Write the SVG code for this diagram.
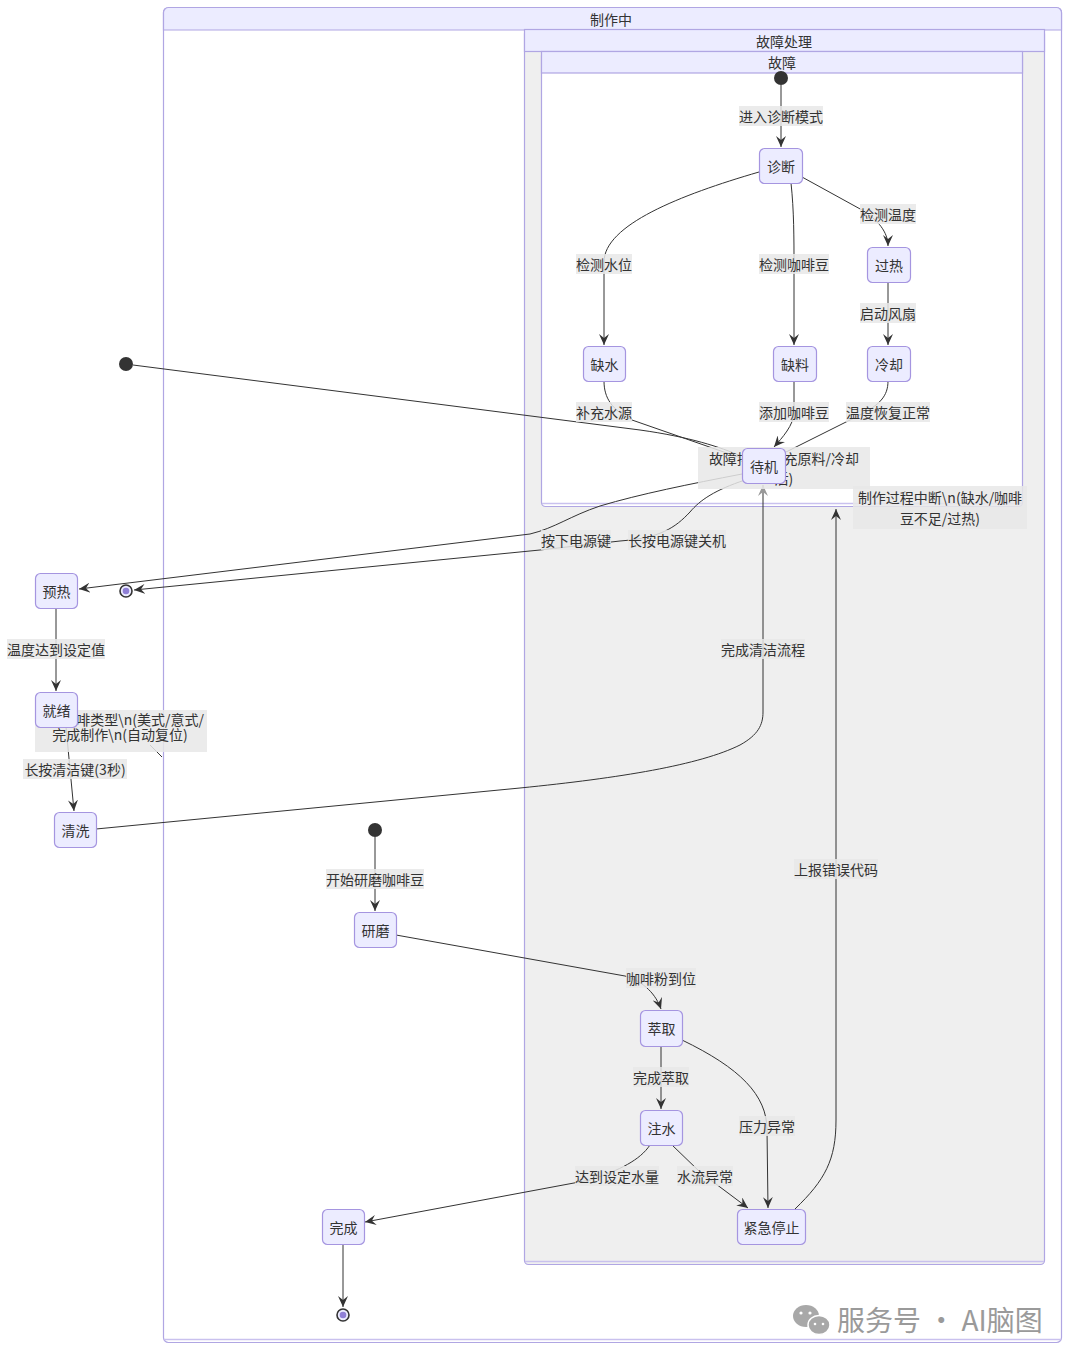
<svg xmlns="http://www.w3.org/2000/svg" width="1080" height="1364" viewBox="0 0 1080 1364">
  <style>
    text { font-family: "Noto Sans CJK SC", "Noto Sans", sans-serif; font-size: 14px; fill: #333; }
    .title { text-anchor: middle; dominant-baseline: central; }
    .box { fill: #ECECFF; stroke: #a595e0; stroke-width: 1.2; }
    .cbody { stroke: #b0a6e3; stroke-width: 1.2; }
    .chead { fill: #ECECFF; stroke: #b0a6e3; stroke-width: 1.2; }
    .edge { fill: none; stroke: #333; stroke-width: 1; }
    .lbl rect { fill: #e8e8e8; opacity: 0.85; }
    .lbl text { text-anchor: middle; dominant-baseline: central; }
    .start { fill: #333; }
    .wm { font-size: 28px; fill: #9a9a9a; }
  </style>
  <defs>
    <marker id="arr" viewBox="0 0 12 10" refX="11" refY="5" markerWidth="12" markerHeight="10" markerUnits="userSpaceOnUse" orient="auto">
      <path d="M0,0 L11,5 L0,10 L4,5 Z" fill="#333"/>
    </marker>
    <marker id="arrLight" viewBox="0 0 12 10" refX="11" refY="5" markerWidth="12" markerHeight="10" markerUnits="userSpaceOnUse" orient="auto">
      <path d="M0,0 L11,5 L0,10 L4,5 Z" fill="#999"/>
    </marker>
  </defs>

  <rect width="1080" height="1364" fill="#ffffff"/>

  <!-- composite: 制作中 -->
  <g id="making">
    <rect class="cbody" x="163.5" y="7.5" width="898" height="1335" rx="5" fill="#ffffff"/>
    <path class="chead" d="M163.5,30 V12.5 a5,5 0 0 1 5,-5 H1056.5 a5,5 0 0 1 5,5 V30 Z"/>
    <line x1="164" y1="1339.5" x2="1061" y2="1339.5" stroke="#c9c1ee" stroke-width="1.5"/>
    <text class="title" x="611" y="19">制作中</text>
  </g>

  <!-- composite: 故障处理 -->
  <g id="fault-handling">
    <rect class="cbody" x="524.5" y="29.5" width="520" height="1235" rx="4" fill="#efefef"/>
    <rect class="chead" x="524.5" y="29.5" width="520" height="22"/>
    <line x1="525" y1="1261.5" x2="1044" y2="1261.5" stroke="#c9c1ee" stroke-width="1.5"/>
    <text class="title" x="784" y="40.5">故障处理</text>
  </g>

  <!-- composite: 故障 -->
  <g id="fault">
    <rect class="cbody" x="541.5" y="51.5" width="481" height="455" rx="4" fill="#ffffff"/>
    <rect class="chead" x="541.5" y="51.5" width="481" height="21.5"/>
    <line x1="542" y1="503.5" x2="1022" y2="503.5" stroke="#c9c1ee" stroke-width="1.5"/>
    <text class="title" x="782" y="62">故障</text>
  </g>

  <!-- connectors -->
  <g id="connectors">
    <path class="edge" d="M781,85 L781,147" marker-end="url(#arr)"/>
    <path class="edge" d="M759,172 C680,195 604,225 604,262 L604,345" marker-end="url(#arr)"/>
    <path class="edge" d="M791,183 C794,210 794,240 794,264 L794,345" marker-end="url(#arr)"/>
    <path class="edge" d="M802,177 L862,210 C878,220 888,232 888,246" marker-end="url(#arr)"/>
    <path class="edge" d="M888,282 L888,345" marker-end="url(#arr)"/>
    <path class="edge" d="M604,381 C604,398 612,410 632,420 L741,458"/>
    <path class="edge" d="M794,381 L794,412 C794,425 782,438 774,447" marker-end="url(#arr)"/>
    <path class="edge" d="M888,381 C888,396 880,405 858,416 L786,452"/>
    <path class="edge" d="M133,365 L640,430 C690,437 720,447 741,456"/>
    <path class="edge" d="M742,474 C690,484 640,494 600,506 C570,516 555,528 530,534 L79,589" marker-end="url(#arr)"/>
    <path class="edge" d="M745,480 C715,490 700,500 690,512 C675,528 660,538 620,541 L540,550 L134,590" marker-end="url(#arr)"/>
    <path class="edge" d="M56,608 L56,691" marker-end="url(#arr)"/>
    <path class="edge" d="M66,727 L74,811" marker-end="url(#arr)"/>
    <path class="edge" d="M150,745 L162,757" stroke="#777"/>
    <path class="edge" d="M96,829 L520,788 C620,778 700,765 740,745 C758,735 763,725 763,712 L763,485" marker-end="url(#arrLight)"/>
    <path class="edge" d="M375,837 L375,911" marker-end="url(#arr)"/>
    <path class="edge" d="M396,935 L625,976 C645,982 656,995 661,1009" marker-end="url(#arr)"/>
    <path class="edge" d="M661,1046 L661,1109" marker-end="url(#arr)"/>
    <path class="edge" d="M682,1040 C740,1068 767,1095 767,1130 L768,1208" marker-end="url(#arr)"/>
    <path class="edge" d="M650,1145 C640,1160 620,1170 590,1180 L365,1222" marker-end="url(#arr)"/>
    <path class="edge" d="M672,1145 L700,1172 L748,1208" marker-end="url(#arr)"/>
    <path class="edge" d="M795,1209 C825,1180 836,1160 836,1120 L836,509" marker-end="url(#arr)"/>
    <path class="edge" d="M343,1244 L343,1307" marker-end="url(#arr)"/>
  </g>

  <!-- connector labels -->
  <g id="labels">
    <g class="lbl"><rect x="739" y="106" width="84" height="20"/><text x="781" y="116">进入诊断模式</text></g>
    <g class="lbl"><rect x="576" y="254" width="56" height="20"/><text x="604" y="264">检测水位</text></g>
    <g class="lbl"><rect x="759" y="254" width="70" height="20"/><text x="794" y="264">检测咖啡豆</text></g>
    <g class="lbl"><rect x="860" y="204" width="56" height="20"/><text x="888" y="214">检测温度</text></g>
    <g class="lbl"><rect x="860" y="303" width="56" height="20"/><text x="888" y="313">启动风扇</text></g>
    <g class="lbl"><rect x="576" y="402" width="56" height="20"/><text x="604" y="412">补充水源</text></g>
    <g class="lbl"><rect x="759" y="402" width="70" height="20"/><text x="794" y="412">添加咖啡豆</text></g>
    <g class="lbl"><rect x="846" y="402" width="84" height="20"/><text x="888" y="412">温度恢复正常</text></g>
    <g class="lbl"><rect x="698" y="447" width="172" height="42"/><text x="784" y="458">故障排除(补充原料/冷却</text><text x="784" y="478">后)</text></g>
    <g class="lbl"><rect x="853" y="486" width="174" height="43"/><text x="940" y="497">制作过程中断\n(缺水/咖啡</text><text x="940" y="518">豆不足/过热)</text></g>
    <g class="lbl"><rect x="541" y="530" width="70" height="20"/><text x="576" y="540">按下电源键</text></g>
    <g class="lbl"><rect x="628" y="530" width="98" height="20"/><text x="677" y="540">长按电源键关机</text></g>
    <g class="lbl"><rect x="721" y="639" width="84" height="20"/><text x="763" y="649">完成清洁流程</text></g>
    <g class="lbl"><rect x="7" y="639" width="98" height="20"/><text x="56" y="649">温度达到设定值</text></g>
    <g class="lbl"><rect x="35" y="710" width="172" height="42"/><text x="204" y="719" style="text-anchor:end">啡类型\n(美式/意式/</text><text x="120" y="734">完成制作\n(自动复位)</text></g>
    <g class="lbl"><rect x="23" y="759" width="104" height="20"/><text x="75" y="769">长按清洁键(3秒)</text></g>
    <g class="lbl"><rect x="326" y="869" width="98" height="20"/><text x="375" y="879">开始研磨咖啡豆</text></g>
    <g class="lbl"><rect x="626" y="968" width="70" height="20"/><text x="661" y="978">咖啡粉到位</text></g>
    <g class="lbl"><rect x="633" y="1067" width="56" height="20"/><text x="661" y="1077">完成萃取</text></g>
    <g class="lbl"><rect x="739" y="1116" width="56" height="20"/><text x="767" y="1126">压力异常</text></g>
    <g class="lbl"><rect x="575" y="1166" width="84" height="20"/><text x="617" y="1176">达到设定水量</text></g>
    <g class="lbl"><rect x="677" y="1166" width="56" height="20"/><text x="705" y="1176">水流异常</text></g>
    <g class="lbl"><rect x="794" y="859" width="84" height="20"/><text x="836" y="869">上报错误代码</text></g>
  </g>

  <!-- states -->
  <g id="start-fault"><circle class="start" cx="781" cy="78" r="7"/></g>
  <g id="diagnose"><rect class="box" x="759.5" y="148.5" width="43" height="35" rx="5"/><text class="title" x="781" y="166">诊断</text></g>
  <g id="overheat"><rect class="box" x="867.5" y="247.5" width="43" height="35" rx="5"/><text class="title" x="889" y="265">过热</text></g>
  <g id="no-water"><rect class="box" x="583.5" y="346.5" width="42" height="35" rx="5"/><text class="title" x="604.5" y="364">缺水</text></g>
  <g id="no-beans"><rect class="box" x="773.5" y="346.5" width="43" height="35" rx="5"/><text class="title" x="795" y="364">缺料</text></g>
  <g id="cooling"><rect class="box" x="867.5" y="346.5" width="43" height="35" rx="5"/><text class="title" x="889" y="364">冷却</text></g>
  <g id="standby"><rect class="box" x="742.5" y="448.5" width="43" height="35" rx="5"/><text class="title" x="764" y="466">待机</text></g>
  <g id="start-main"><circle class="start" cx="126" cy="364" r="7"/></g>
  <g id="end-main"><circle cx="126" cy="591" r="6" fill="#ECECFF" stroke="#333" stroke-width="1.6"/><circle cx="126" cy="591" r="3.3" fill="#8f7fd6"/></g>
  <g id="preheat"><rect class="box" x="35.5" y="573.5" width="42" height="35" rx="5"/><text class="title" x="56.5" y="591">预热</text></g>
  <g id="ready"><rect class="box" x="35.5" y="692.5" width="42" height="35" rx="5"/><text class="title" x="56.5" y="710">就绪</text></g>
  <g id="clean"><rect class="box" x="54.5" y="812.5" width="42" height="35" rx="5"/><text class="title" x="75.5" y="830">清洗</text></g>
  <g id="start-brew"><circle class="start" cx="375" cy="830" r="7"/></g>
  <g id="grind"><rect class="box" x="354.5" y="912.5" width="42" height="35" rx="5"/><text class="title" x="375.5" y="930">研磨</text></g>
  <g id="extract"><rect class="box" x="640.5" y="1010.5" width="42" height="36" rx="5"/><text class="title" x="661.5" y="1028">萃取</text></g>
  <g id="water"><rect class="box" x="640.5" y="1110.5" width="42" height="35" rx="5"/><text class="title" x="661.5" y="1128">注水</text></g>
  <g id="emergency-stop"><rect class="box" x="737.5" y="1209.5" width="68" height="35" rx="5"/><text class="title" x="771.5" y="1227">紧急停止</text></g>
  <g id="done"><rect class="box" x="322.5" y="1209.5" width="42" height="35" rx="5"/><text class="title" x="343.5" y="1227">完成</text></g>
  <g id="end-brew"><circle cx="343" cy="1315" r="6" fill="#ECECFF" stroke="#333" stroke-width="1.6"/><circle cx="343" cy="1315" r="3.3" fill="#8f7fd6"/></g>

  <!-- watermark -->
  <g id="watermark">
    <ellipse cx="806" cy="1316" rx="13" ry="11" fill="#a8a8a8"/>
    <ellipse cx="819" cy="1325" rx="11" ry="9.5" fill="#a8a8a8" stroke="#ffffff" stroke-width="1.5"/>
    <circle cx="801" cy="1313" r="1.6" fill="#fff"/>
    <circle cx="810" cy="1313" r="1.6" fill="#fff"/>
    <circle cx="815" cy="1324" r="1.3" fill="#fff"/>
    <circle cx="823" cy="1324" r="1.3" fill="#fff"/>
    <text class="wm" x="837" y="1331">服务号 · AI脑图</text>
  </g>
</svg>
